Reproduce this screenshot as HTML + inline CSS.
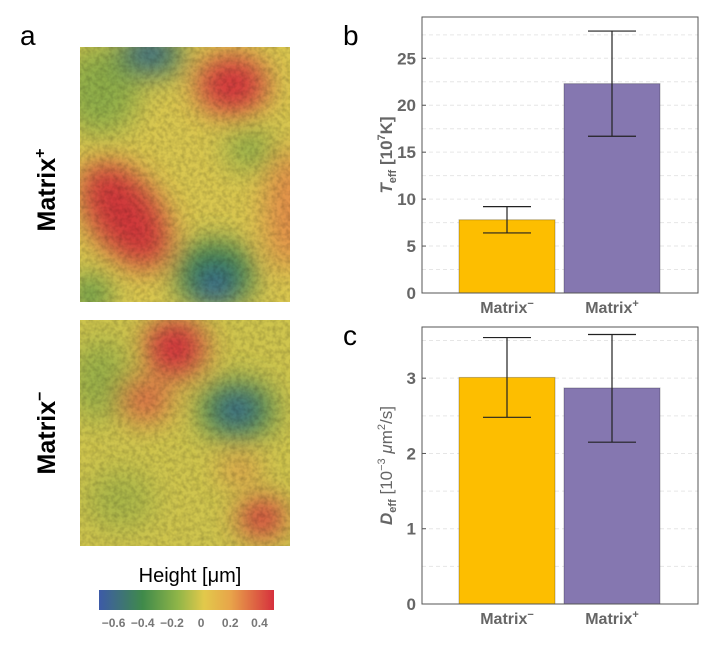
<!DOCTYPE html>
<html><head><meta charset="utf-8"><style>
body{margin:0;background:#fff;width:713px;height:645px;overflow:hidden;font-family:"Liberation Sans",sans-serif}
svg{display:block}
</style></head><body>
<svg width="713" height="645">
<defs>
<filter id="bl" x="-20%" y="-20%" width="140%" height="140%"><feGaussianBlur stdDeviation="14"/></filter>
<filter id="tx"><feTurbulence type="fractalNoise" baseFrequency="0.22" numOctaves="2" seed="3"/><feColorMatrix type="matrix" values="0 0 0 0 0  0 0 0 0 0  0 0 0 0 0  0 0 0 -1.3 0.85"/></filter>
<clipPath id="c1"><rect x="80" y="47" width="210" height="255"/></clipPath>
<clipPath id="c2"><rect x="80" y="320" width="210" height="226"/></clipPath>
<linearGradient id="cb" x1="0" x2="1"><stop offset="0" stop-color="#3d5aa8"/><stop offset="0.25" stop-color="#3f8a4a"/><stop offset="0.45" stop-color="#8fb548"/><stop offset="0.6" stop-color="#e2c94b"/><stop offset="0.75" stop-color="#e8a54a"/><stop offset="1" stop-color="#d6303d"/></linearGradient>
</defs>
<text x="20" y="45" font-size="28">a</text>
<text x="343" y="45" font-size="28">b</text>
<text x="343" y="345" font-size="28">c</text>
<g clip-path="url(#c1)">
<rect x="80" y="47" width="210" height="255" fill="#d9c750"/>
<g filter="url(#bl)">
<ellipse cx="100" cy="90" rx="40" ry="45" fill="#8fae4a"/>
<ellipse cx="150" cy="55" rx="35" ry="22" fill="#3d7a58"/>
<ellipse cx="150" cy="52" rx="15" ry="10" fill="#3b5aa5"/>
<ellipse cx="232" cy="85" rx="35" ry="30" fill="#d4383c"/>
<ellipse cx="125" cy="215" rx="35" ry="60" fill="#d0383b" transform="rotate(-35 125 215)"/>
<ellipse cx="215" cy="275" rx="40" ry="35" fill="#3a8050"/>
<ellipse cx="215" cy="285" rx="15" ry="15" fill="#3b5aa5"/>
<ellipse cx="250" cy="150" rx="25" ry="20" fill="#8fae48"/>
<ellipse cx="290" cy="210" rx="25" ry="60" fill="#e39048"/>
<ellipse cx="90" cy="295" rx="20" ry="20" fill="#5b9a4a"/>
</g>
<rect x="80" y="47" width="210" height="255" filter="url(#tx)" opacity="0.25"/>
</g>
<g clip-path="url(#c2)">
<rect x="80" y="320" width="210" height="226" fill="#cfc54e"/>
<g filter="url(#bl)">
<ellipse cx="100" cy="380" rx="30" ry="40" fill="#99b04a"/>
<ellipse cx="175" cy="348" rx="30" ry="30" fill="#d2363c"/>
<ellipse cx="145" cy="400" rx="25" ry="22" fill="#dc6a44"/>
<ellipse cx="237" cy="410" rx="38" ry="30" fill="#3f8250"/>
<ellipse cx="237" cy="410" rx="15" ry="12" fill="#3d5aa8"/>
<ellipse cx="262" cy="518" rx="22" ry="20" fill="#d4383c"/>
<ellipse cx="240" cy="470" rx="20" ry="12" fill="#e3944a"/>
<ellipse cx="120" cy="500" rx="35" ry="30" fill="#a9b64a"/>
</g>
<rect x="80" y="320" width="210" height="226" filter="url(#tx)" opacity="0.25"/>
</g>
<text transform="translate(55,190) rotate(-90)" text-anchor="middle" font-size="25" font-weight="bold">Matrix<tspan dy="-10" font-size="16">+</tspan></text>
<text transform="translate(55,433) rotate(-90)" text-anchor="middle" font-size="25" font-weight="bold">Matrix<tspan dy="-10" font-size="16">−</tspan></text>
<text x="190" y="582" text-anchor="middle" font-size="20">Height [μm]</text>
<rect x="99" y="590" width="175" height="20" fill="url(#cb)"/>
<g id="cbt" font-size="12" font-weight="bold" fill="#777" text-anchor="middle"></g>
<g id="chartb"></g>
<g id="chartc"></g>
</svg>
<script>
const NS='http://www.w3.org/2000/svg';
function mk(p,t,a){const e=document.createElementNS(NS,t);for(const k in a)e.setAttribute(k,a[k]);p.appendChild(e);return e;}
const cbTicks=[-0.6,-0.4,-0.2,0,0.2,0.4];
const cbg=document.getElementById('cbt');
cbTicks.forEach(v=>{const t=mk(cbg,'text',{x:99+(v+0.7)/1.2*175,y:627});t.textContent=(v<0?'−':'')+Math.abs(v);

});

const categories=['Matrix−','Matrix+'];
const tValues=[7.8,22.3];
const tLow=[6.4,16.7];
const tHigh=[9.2,27.9];
const tTicks=[0,5,10,15,20,25];
const dValues=[3.01,2.87];
const dLow=[2.48,2.15];
const dHigh=[3.54,3.58];
const dTicks=[0,1,2,3];
const colors=['#fdbe00','#8577b0'];

function chart(g,top,bottom,ymax,vals,lo,hi,ticks,minor,label,name){
 const L=422,R=698;
 const y=v=>bottom-(v/ymax)*(bottom-top);
 const bw=96,cx=[507,612];
 minor.forEach(v=>{const l=mk(g,'line',{x1:L,x2:R,y1:y(v),y2:y(v),stroke:'#e6e6e6','stroke-dasharray':'4,3'});});
 vals.forEach((v,i)=>{
  const r=mk(g,'rect',{x:cx[i]-bw/2,y:y(v),width:bw,height:bottom-y(v),fill:colors[i],stroke:'rgba(0,0,0,0.25)','stroke-width':1});
  
  
  const e=mk(g,'path',{d:`M${cx[i]},${y(lo[i])}V${y(hi[i])}M${cx[i]-24},${y(lo[i])}h48M${cx[i]-24},${y(hi[i])}h48`,stroke:'#222','stroke-width':1.2,fill:'none'});
  
  
  const t=mk(g,'text',{x:cx[i],y:bottom+20,'text-anchor':'middle','font-size':16,'font-weight':'bold',fill:'#666'});
  t.textContent='Matrix';const s=mk(t,'tspan',{dy:-6,'font-size':11});s.textContent=i?'+':'−';
  
  
 });
 const f=mk(g,'rect',{x:L,y:top,width:R-L,height:bottom-top,fill:'none',stroke:'#555','stroke-width':1});
 
 ticks.forEach(v=>{mk(g,'line',{x1:L,x2:L+4,y1:y(v),y2:y(v),stroke:'#555'});
  const t=mk(g,'text',{x:L-6,y:y(v)+6,'text-anchor':'end','font-size':17,'font-weight':'bold',fill:'#666'});t.textContent=v;
  });
 const yl=mk(g,'text',{transform:`translate(392,${(top+bottom)/2}) rotate(-90)`,'text-anchor':'middle','font-size':17,'font-weight':'bold',fill:'#666'});
 yl.innerHTML=label;
 
 
}
chart(document.getElementById('chartb'),17,293,29.4,tValues,tLow,tHigh,tTicks,[2.5,5,7.5,10,12.5,15,17.5,20,22.5,25,27.5],
 '<tspan font-style="italic">T</tspan><tspan font-size="11" dy="4">eff</tspan><tspan dy="-4"> [10</tspan><tspan font-size="11" dy="-7">7</tspan><tspan dy="7">K]</tspan>','chart-teff');
chart(document.getElementById('chartc'),327,604,3.68,dValues,dLow,dHigh,dTicks,[0.5,1,1.5,2,2.5,3,3.5],
 '<tspan font-style="italic">D</tspan><tspan font-size="11" dy="4">eff</tspan><tspan dy="-4" font-weight="normal"> [10</tspan><tspan font-size="11" dy="-7" font-weight="normal">−3</tspan><tspan dy="7" font-weight="normal"> </tspan><tspan font-style="italic" font-weight="normal">μ</tspan><tspan font-weight="normal">m</tspan><tspan font-size="11" dy="-7" font-weight="normal">2</tspan><tspan dy="7" font-weight="normal">/s]</tspan>','chart-deff');
</script>
</body></html>
